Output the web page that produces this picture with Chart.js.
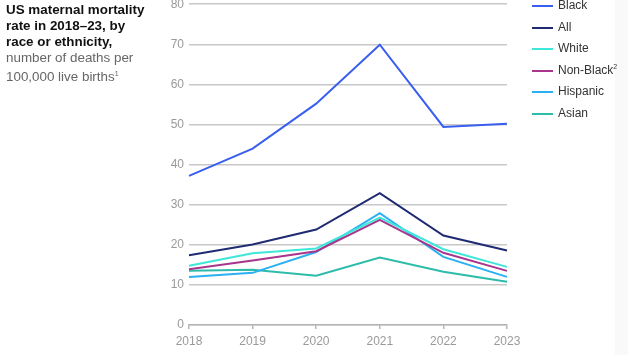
<!DOCTYPE html>
<html>
<head>
<meta charset="utf-8">
<script src="https://cdn.jsdelivr.net/npm/chart.js@4/dist/chart.umd.min.js"></script>
<style>
  html, body { margin: 0; padding: 0; background: #fff; }
  body { width: 628px; height: 355px; position: relative; overflow: hidden; font-family: "Liberation Sans", Arial, sans-serif; }
  #strip { position: absolute; left: 615px; top: 0; width: 13px; height: 355px; background: #f9f9f9; }
  #wrap { position: absolute; left: 0; top: -8px; width: 628px; height: 364px; }
  #title { position: absolute; left: 6px; top: 2px; width: 175px; font-size: 13.4px; line-height: 16px; color: #111; }
  #title b { font-weight: bold; }
  #title span { color: #666; }
  #legend { position: absolute; left: 532px; top: -4px; font-size: 12px; color: #333; }
  .li { position: relative; height: 21.6px; white-space: nowrap; }
  .li i { position: absolute; left: 0; top: 9px; width: 21px; height: 2px; }
  .li em { position: absolute; left: 26px; top: 2px; font-style: normal; }
  sup { font-size: 7px; vertical-align: 5px; }
</style>
</head>
<body>
<div id="strip"></div>
<div id="wrap"><canvas id="c" width="628" height="364"></canvas></div>
<div id="title"><b>US maternal mortality<br>rate in 2018–23, by<br>race or ethnicity,</b><br><span>number of deaths per<br>100,000 live births<sup>1</sup></span></div>
<div id="legend"></div>
<script>
const years = ["2018", "2019", "2020", "2021", "2022", "2023"];
const yTicks = [0, 10, 20, 30, 40, 50, 60, 70, 80];
const seriesNames = ["Black", "All", "White", "Non-Black", "Hispanic", "Asian"];
const seriesSup = ["", "", "", "2", "", ""];
const black = [37.2, 44.0, 55.2, 69.9, 49.4, 50.2];
const all = [17.4, 20.1, 23.8, 32.9, 22.3, 18.6];
const white = [14.8, 17.9, 19.1, 26.8, 18.9, 14.5];
const nonBlack = [13.9, 16.1, 18.4, 26.2, 18.0, 13.5];
const hispanic = [12.0, 13.0, 18.2, 27.9, 17.0, 12.0];
const asian = [13.5, 13.8, 12.3, 16.8, 13.3, 10.8];
const seriesColors = ["#3a5ef0", "#1f2b72", "#3fe6da", "#a8368c", "#2bb0f2", "#2dbcaa"];
const seriesData = [black, all, white, nonBlack, hispanic, asian];

const datasets = seriesNames.map((n, i) => ({
  label: n,
  data: seriesData[i],
  borderColor: seriesColors[i],
  backgroundColor: seriesColors[i],
  borderWidth: 2,
  pointRadius: 0,
  tension: 0,
  order: i
}));

const leg = document.getElementById('legend');
seriesNames.forEach((n, i) => {
  const d = document.createElement('div');
  d.className = 'li';
  d.innerHTML = '<i style="background:' + seriesColors[i] + '"></i><em>' + n + (seriesSup[i] ? '<sup>' + seriesSup[i] + '</sup>' : '') + '</em>';
  leg.appendChild(d);
});

new Chart(document.getElementById('c'), {
  type: 'line',
  data: { labels: years, datasets: datasets },
  options: {
    responsive: false,
    animation: false,
    layout: { padding: { left: 0, right: 121, top: 4, bottom: 0 } },
    plugins: { legend: { display: false }, tooltip: { enabled: false } },
    scales: {
      x: {
        offset: false,
        grid: { drawOnChartArea: false, drawTicks: true, tickLength: 4, color: '#b5b5b5', lineWidth: 1.5 },
        border: { display: true, color: '#b5b5b5', width: 1.5 },
        ticks: { color: '#9a9a9a', font: { family: 'Liberation Sans', size: 12 }, padding: 5, maxRotation: 0 },
        afterFit: s => { s.height = 31; }
      },
      y: {
        min: 0, max: 80,
        afterBuildTicks: s => { s.ticks = yTicks.map(v => ({ value: v })); },
        grid: { color: '#c8c8c8', lineWidth: 1.5, drawTicks: false },
        border: { display: false },
        ticks: { color: '#9a9a9a', font: { family: 'Liberation Sans', size: 12 }, padding: 5 },
        afterFit: s => { s.width = 189; }
      }
    }
  }
});
</script>
</body>
</html>
